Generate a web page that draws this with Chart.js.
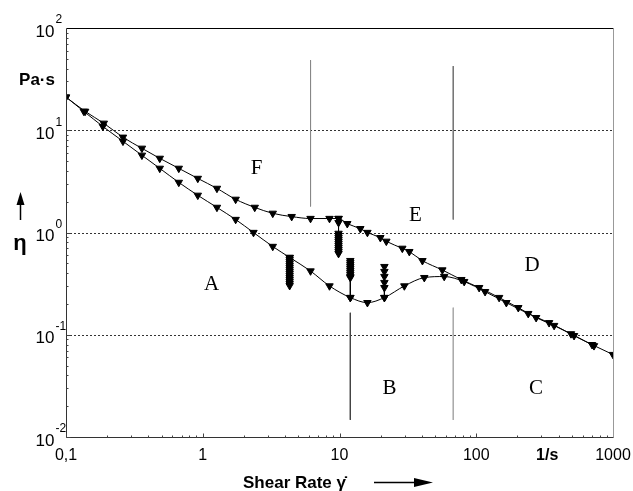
<!DOCTYPE html>
<html>
<head>
<meta charset="utf-8">
<script src="https://cdn.jsdelivr.net/npm/chart.js@4.4.1/dist/chart.umd.min.js"></script>
<style>
  html, body { margin: 0; padding: 0; background: #fff; }
  #wrap { width: 633px; height: 491px; }
</style>
</head>
<body>
<div id="wrap"><canvas id="viscosityChart" width="633" height="491"></canvas></div>
<script>
// Shear rate (1/s) and viscosity (Pa·s)
const upperX = [0.1, 0.138, 0.189, 0.261, 0.359, 0.485, 0.668, 0.92, 1.27, 1.74,
                2.40, 3.25, 4.47, 6.14, 8.45, 9.84, 11.4, 14.2, 16.0, 19.9,
                22.0, 28.8, 32.4, 40.4, 56.5, 77.8, 105, 147, 203, 274,
                371, 519, 703, 1000];
const upperY = [21.1, 15.3, 11.7, 8.54, 6.66, 5.31, 4.24, 3.38, 2.70, 2.11,
                1.76, 1.54, 1.43, 1.37, 1.37, 1.37, 1.22, 1.09, 1.0, 0.89,
                0.82, 0.70, 0.65, 0.53, 0.43, 0.346, 0.289, 0.231, 0.184, 0.147,
                0.123, 0.098, 0.080, 0.064];

const lowerX = [0.1, 0.135, 0.186, 0.261, 0.359, 0.485, 0.668, 0.92, 1.27, 1.74,
                2.35, 3.25, 4.32, 6.14, 8.45, 12.0, 16.0, 21.3, 29.8, 41.7,
                58.3, 81.6, 116, 166, 240, 341, 493, 726];
const lowerY = [21.1, 15.3, 10.9, 7.80, 5.69, 4.24, 3.09, 2.31, 1.76, 1.34,
                1.0, 0.73, 0.57, 0.42, 0.30, 0.231, 0.206, 0.231, 0.30, 0.362,
                0.371, 0.331, 0.264, 0.206, 0.161, 0.131, 0.102, 0.078];

// repeated measurements at a fixed shear rate (time steps)
const stack1X = 4.32;
const stack1Y = [0.569, 0.543, 0.520, 0.497, 0.475, 0.454, 0.434, 0.415, 0.397, 0.379,
                 0.362, 0.346, 0.331, 0.316, 0.302];
const stack2X = 9.84;
const stack2Y = [1.37, 1.25, 0.98, 0.935, 0.893, 0.853, 0.817, 0.780, 0.746, 0.713,
                 0.681, 0.651, 0.622];
const stack3X = 12.0;
const stack3Y = [0.531, 0.508, 0.485, 0.464, 0.444, 0.424, 0.406, 0.388, 0.371, 0.362, 0.231];
const stack4X = 21.3;
const stack4Y = [0.464, 0.415, 0.371, 0.324, 0.289, 0.231];

// region boundary lines: [x, yTop, yBottom]
const boundaries = [
  [6.14, 48.5, 1.8],
  [67.9, 42.4, 1.34],
  [12.0, 0.164, 0.0147],
  [67.9, 0.184, 0.0147]
];
const boundaryColors = ['#888', '#777', '#444', '#aaa'];

// region letters
const regionLabels = ['A', 'B', 'C', 'D', 'E', 'F'];
const regionX = [1.16, 23.2, 274, 256, 35.9, 2.48];
const regionY = [0.309, 0.0296, 0.0296, 0.474, 1.47, 4.24];

// axes
const xTickValues = [0.1, 1, 10, 100, 1000];
const xTickLabels = ['0,1', '1', '10', '100', '1000'];
const yTickValues = [0.01, 0.1, 1, 10, 100];
const yTickExps = ['-2', '-1', '0', '1', '2'];
const yGridValues = [0.1, 1, 10];

const toPoints = (xs, ys) => xs.map((x, i) => ({ x: x, y: ys[i] }));
const stackPoints = (x, ys) => ys.map(y => ({ x: x, y: y }));

const markerStyle = {
  pointStyle: 'triangle',
  rotation: 180,
  pointRadius: 4.3,
  pointBackgroundColor: '#000',
  pointBorderColor: '#000',
  pointBorderWidth: 1,
  borderColor: '#000',
  borderWidth: 1,
  fill: false
};

const datasets = [
  { label: 'upper', data: toPoints(upperX, upperY), ...markerStyle, cubicInterpolationMode: 'monotone' },
  { label: 'lower', data: toPoints(lowerX, lowerY), ...markerStyle, cubicInterpolationMode: 'monotone' },
  { label: 's1', data: stackPoints(stack1X, stack1Y), ...markerStyle },
  { label: 's2', data: stackPoints(stack2X, stack2Y), ...markerStyle },
  { label: 's3', data: stackPoints(stack3X, stack3Y), ...markerStyle },
  { label: 's4', data: stackPoints(stack4X, stack4Y), ...markerStyle }
];

boundaries.forEach((b, i) => {
  datasets.push({
    label: 'b' + i,
    data: [{ x: b[0], y: b[1] }, { x: b[0], y: b[2] }],
    borderColor: boundaryColors[i],
    borderWidth: 1,
    pointRadius: 0,
    fill: false
  });
});

const decorPlugin = {
  id: 'decor',
  beforeDatasetsDraw(chart) {
    const { ctx, chartArea: a, scales } = chart;
    ctx.save();
    ctx.strokeStyle = '#333';
    ctx.lineWidth = 1;
    ctx.setLineDash([2, 2]);
    yGridValues.forEach(v => {
      const y = Math.round(scales.y.getPixelForValue(v)) + 0.5;
      ctx.beginPath();
      ctx.moveTo(a.left, y);
      ctx.lineTo(a.right, y);
      ctx.stroke();
    });
    ctx.restore();
  },
  afterDraw(chart) {
    const { ctx, chartArea: a, scales } = chart;
    const xs = scales.x, ys = scales.y;
    ctx.save();

    // frame
    const L = Math.round(a.left) + 0.5, R = Math.round(a.right) + 0.5;
    const T = Math.round(a.top) + 0.5, B = Math.round(a.bottom) + 0.5;
    ctx.lineWidth = 1;
    ctx.strokeStyle = '#000';
    ctx.beginPath(); ctx.moveTo(L, T); ctx.lineTo(R, T); ctx.stroke();
    ctx.strokeStyle = '#999';
    ctx.beginPath(); ctx.moveTo(R, T); ctx.lineTo(R, B); ctx.stroke();
    ctx.strokeStyle = '#333';
    ctx.beginPath(); ctx.moveTo(L, T); ctx.lineTo(L, B); ctx.lineTo(R, B); ctx.stroke();

    // minor and major ticks
    ctx.strokeStyle = '#444';
    for (let d = -1; d <= 2; d++) {
      for (let m = 1; m <= 9; m++) {
        const v = m * Math.pow(10, d);
        const x = Math.round(xs.getPixelForValue(v)) + 0.5;
        ctx.beginPath(); ctx.moveTo(x, B); ctx.lineTo(x, B - (m === 1 ? 4 : 2)); ctx.stroke();
      }
    }
    for (let d = -2; d <= 1; d++) {
      for (let m = 1; m <= 9; m++) {
        const v = m * Math.pow(10, d);
        const y = Math.round(ys.getPixelForValue(v)) + 0.5;
        ctx.beginPath(); ctx.moveTo(L, y); ctx.lineTo(L + (m === 1 ? 4 : 2), y); ctx.stroke();
      }
    }

    // x tick labels
    ctx.fillStyle = '#000';
    ctx.font = '16px "Liberation Sans", Arial, sans-serif';
    ctx.textAlign = 'center';
    ctx.textBaseline = 'middle';
    xTickValues.forEach((v, i) => {
      ctx.fillText(xTickLabels[i], xs.getPixelForValue(v), B + 18);
    });
    ctx.font = 'bold 16px "Liberation Sans", Arial, sans-serif';
    ctx.fillText('1/s', xs.getPixelForValue(330), B + 18);

    // y tick labels with exponent
    yTickValues.forEach((v, i) => {
      const y = ys.getPixelForValue(v);
      ctx.font = '17px "Liberation Sans", Arial, sans-serif';
      ctx.textAlign = 'right';
      ctx.fillText('10', L - 12, y + 4);
      ctx.font = '12px "Liberation Sans", Arial, sans-serif';
      ctx.textAlign = 'left';
      ctx.fillText(yTickExps[i], L - 11, y - 8);
    });

    // y unit and symbol
    ctx.font = 'bold 17px "Liberation Sans", Arial, sans-serif';
    ctx.textAlign = 'center';
    ctx.fillText('Pa\u00b7s', 37, 80);
    ctx.font = 'bold 22px "Liberation Sans", Arial, sans-serif';
    ctx.fillText('\u03b7', 20, 244);
    ctx.strokeStyle = '#000';
    ctx.lineWidth = 1.5;
    ctx.beginPath(); ctx.moveTo(20.5, 220); ctx.lineTo(20.5, 200); ctx.stroke();
    ctx.beginPath(); ctx.moveTo(20.5, 192); ctx.lineTo(16.5, 205); ctx.lineTo(24.5, 205); ctx.closePath(); ctx.fill();

    // x title and arrow
    ctx.font = 'bold 17px "Liberation Sans", Arial, sans-serif';
    ctx.textAlign = 'left';
    ctx.fillText('Shear Rate \u03b3\u0307', 243, 483);
    ctx.beginPath(); ctx.moveTo(374, 482.5); ctx.lineTo(418, 482.5); ctx.stroke();
    ctx.beginPath(); ctx.moveTo(433, 482.5); ctx.lineTo(414, 478); ctx.lineTo(414, 487); ctx.closePath(); ctx.fill();

    // region letters
    ctx.font = '21px "Liberation Serif", "Times New Roman", serif';
    ctx.textAlign = 'center';
    regionLabels.forEach((t, i) => {
      ctx.fillText(t, xs.getPixelForValue(regionX[i]), ys.getPixelForValue(regionY[i]));
    });
    ctx.restore();
  }
};

new Chart(document.getElementById('viscosityChart').getContext('2d'), {
  type: 'line',
  data: { datasets: datasets },
  options: {
    responsive: false,
    animation: false,
    layout: { padding: { left: 66, right: 20, top: 28, bottom: 54 } },
    plugins: { legend: { display: false }, tooltip: { enabled: false } },
    elements: { line: { tension: 0 } },
    scales: {
      x: { type: 'logarithmic', min: 0.1, max: 1000, display: false },
      y: { type: 'logarithmic', min: 0.01, max: 100, display: false }
    }
  },
  plugins: [decorPlugin]
});
</script>
</body>
</html>
